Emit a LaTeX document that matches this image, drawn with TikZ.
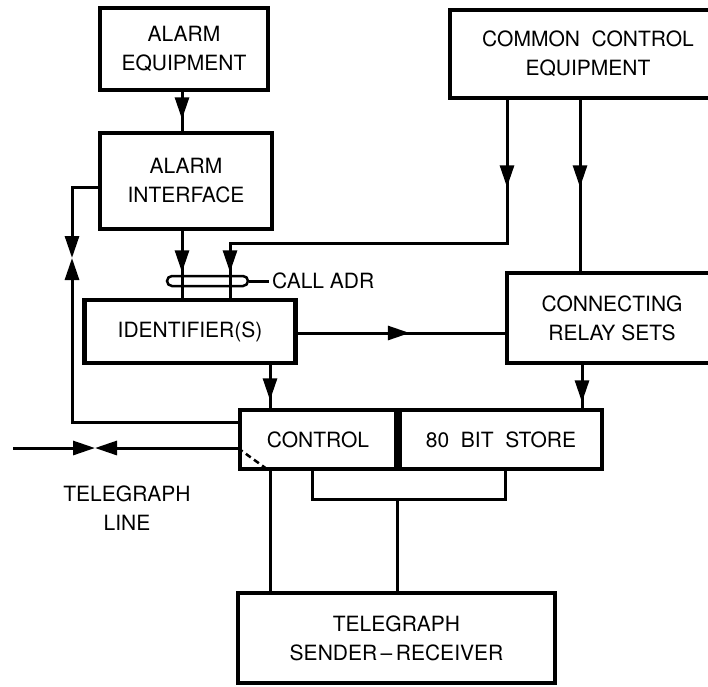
\documentclass[tikz,border=0pt]{standalone}
\usepackage{fontspec}
\setmainfont{TeX Gyre Heros}
\usetikzlibrary{arrows.meta,decorations.markings,calc}
\begin{document}
\begin{tikzpicture}[x=1pt,y=-1pt,
  box/.style={draw, line width=4.5pt, inner sep=0pt, align=center, font=\fontsize{21}{29}\selectfont},
  conn/.style={line width=3pt},
  lbl/.style={inner sep=0pt, align=center, font=\fontsize{21}{29}\selectfont},
  tip/.style={-{Triangle[length=22pt,width=14pt]}},
  marr/.style={postaction={decorate}, decoration={markings, mark=at position #1 with {\arrow{Triangle[length=22pt,width=14pt]}}}},
]
\useasboundingbox (0,0) rectangle (708,686);
\clip (0,0) rectangle (708,686);

% boxes
\node[box, minimum width=168pt, minimum height=82pt] (ae) at (184,49) {ALARM\\EQUIPMENT};
\node[box, minimum width=172pt, minimum height=96pt] (ai) at (186,181) {ALARM\\INTERFACE};
\node[box, minimum width=276pt, minimum height=88pt] (cc) at (588,54) {COMMON\ \ CONTROL\\EQUIPMENT};
\node[box, minimum width=210pt, minimum height=90pt] (crs) at (612,318) {CONNECTING\\RELAY SETS};
\node[box, minimum width=211pt, minimum height=63pt] (id) at (190,331.5) {IDENTIFIER(S)};
\node[box, minimum width=156pt, minimum height=59pt] (ctl) at (318,439.5) {CONTROL};
\node[box, minimum width=202pt, minimum height=59pt] (store) at (501,439.5) {80\ \ BIT\ \ STORE};
\node[box, minimum width=317pt, minimum height=90pt] (tsr) at (396.5,638) {TELEGRAPH\\SENDER\,–\,RECEIVER};

% call address bus
\node[draw, line width=2.5pt, rounded corners=5pt, minimum width=81pt, minimum height=10pt, inner sep=0pt] (bus) at (207.5,281) {};
\node[lbl, anchor=west, inner sep=3pt] (cadr) at (269,281) {CALL ADR};
\draw[conn] (bus.east) -- (cadr.west);

% telegraph line label
\node[lbl] (tll) at (127,508.5) {TELEGRAPH\\LINE};

% helper coordinates
\coordinate (vA) at (182,0);
\coordinate (vB) at (507,0);
\coordinate (vC) at (230,0);
\coordinate (vD) at (580,0);
\coordinate (vF) at (270,0);
\coordinate (vG) at (582,0);
\coordinate (hB) at (0,243);
\coordinate (hE) at (0,333);
\coordinate (ify) at (0,187);
\coordinate (ctly) at (0,422);
\coordinate (fbm) at (72,258);
\coordinate (tlend) at (13,448);
\coordinate (tlm) at (95,448);
\coordinate (bl) at (312,499);
\coordinate (br) at (505,499);
\coordinate (bm) at (397,499);

% connectors
\draw[conn, marr=27pt] (ae.south -| vA) -- (ai.north -| vA);
\draw[conn, tip] (ai.west |- ify) -| (fbm);
\draw[conn, tip] (ctl.west |- ctly) -| (fbm);
\draw[conn, tip] (tlend) -- (tlm);
\draw[conn, tip] (ctl.west |- tlm) -- (tlm);
\draw[conn, marr=41pt] (ai.south -| vA) -- (id.north -| vA);
\draw[conn, postaction={decorate}, decoration={markings,
    mark=at position 87pt with {\arrow{Triangle[length=22pt,width=14pt]}},
    mark=at position 449pt with {\arrow{Triangle[length=22pt,width=14pt]}}}]
  (cc.south -| vB) |- (hB -| vC) -- (id.north -| vC);
\draw[conn, marr=87pt] (cc.south -| vD) -- (crs.north -| vD);
\draw[conn, marr=112pt] (id.east |- hE) -- (crs.west |- hE);
\draw[conn, marr=35pt] (id.south -| vF) -- (ctl.north -| vF);
\draw[conn, marr=37pt] (crs.south -| vG) -- (store.north -| vG);

% bottom connections
\draw[conn] (ctl.south -| vF) -- (tsr.north -| vF);
\draw[line width=2.5pt, dash pattern=on 6pt off 4pt] (ctl.west |- tlm) -- (ctl.south -| vF);
\draw[conn] (ctl.south -| bl) -- (bl) -- (br) -- (store.south -| br);
\draw[conn] (bm) -- (tsr.north -| bm);
\end{tikzpicture}
\end{document}
